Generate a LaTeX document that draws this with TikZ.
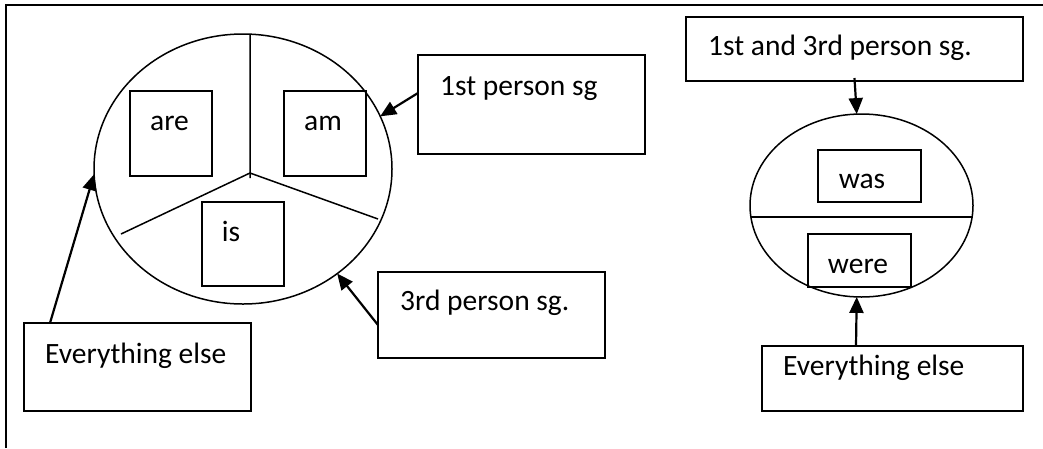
\documentclass[tikz,border=0pt]{standalone}
\usepackage{fontspec}
\setmainfont{Carlito}
\usetikzlibrary{shapes.geometric,arrows.meta,calc}
\begin{document}
\begin{tikzpicture}[x=1pt,y=-1pt,
  box/.style={draw,line width=1.8pt,minimum width=#1,inner sep=0pt,outer sep=0pt},
  txt/.style={inner sep=0pt,font=\fontsize{29.5}{35}\selectfont},
  oval/.style={draw,ellipse,line width=1.5pt,inner sep=0pt,outer sep=0pt},
  arr/.style={line width=2.2pt,-{Triangle[length=16pt,width=14pt]}},
  part/.style={line width=1.5pt}]
\useasboundingbox (0,0) rectangle (1043,448);
% frame (only top and left edges visible)
\draw[line width=2.2pt] (6,448) -- (6,5) -- (1043,5);

% ---- left circle ----
\node[oval,minimum width=298pt,minimum height=270pt] (lc) at (243,169) {};
\coordinate (jc) at (250,173);
\coordinate (jv) at (250,178);
\coordinate (jl) at (121,234);
\coordinate (jr) at (378,219);
\draw[part] (lc.87) -- (jv);
\draw[part] (jl) -- (jc) -- (jr);

\node[box=82pt,minimum height=85pt] (bare) at (171,133.5) {};
\node[box=82pt,minimum height=85pt] (bam) at (325,133.5) {};
\node[box=82pt,minimum height=84pt] (bis) at (243,244) {};
\node[txt,anchor=base] (tare) at (169.5,130) {are};
\node[txt,anchor=base] (tam) at (323,130) {am};
\node[txt,anchor=base] (tis) at (231,241) {is};

% labels left
\node[box=227pt,minimum height=88pt] (ee1) at (137.5,367) {};
\node[txt,anchor=base west] (tee1) at (45,363) {Everything else};
\node[box=227pt,minimum height=99pt] (p1) at (531.5,104.5) {};
\node[txt,anchor=base west] (tp1) at (440,95) {1st person sg};
\node[box=227pt,minimum height=86pt] (p3) at (491.5,315) {};
\node[txt,anchor=base west] (tp3) at (400,310) {3rd person sg.};

\draw[arr] ([xshift=26pt]ee1.north west) -- (lc.182);
\draw[arr] ([yshift=11.5pt]p1.west) -- (lc.21);
\draw[arr] ([yshift=-10pt]p3.west) -- (lc.-48);

% ---- right ellipse ----
\node[oval,minimum width=223pt,minimum height=183pt] (re) at (861.5,205.5) {};
\draw[part] (re.186.7) -- (re.-6.7);
\node[box=103pt,minimum height=52pt] (bwas) at (869.5,176) {};
\node[box=103pt,minimum height=53pt] (bwere) at (859.5,260.5) {};
\node[txt,anchor=base] (twas) at (862,188) {was};
\node[txt,anchor=base] (twere) at (858,273) {were};

\node[box=337pt,minimum height=64pt] (p13) at (854.5,49) {};
\node[txt,anchor=base west] (tp13) at (708,55) {1st and 3rd person sg.};
\node[box=261pt,minimum height=65pt] (ee2) at (892.5,378.5) {};
\node[txt,anchor=base west] (tee2) at (783,375) {Everything else};

\draw[arr] ([yshift=3pt]p13.south) -- (re.93);
\draw[arr] ([xshift=-36.5pt]ee2.north) -- (re.267);
\end{tikzpicture}
\end{document}
